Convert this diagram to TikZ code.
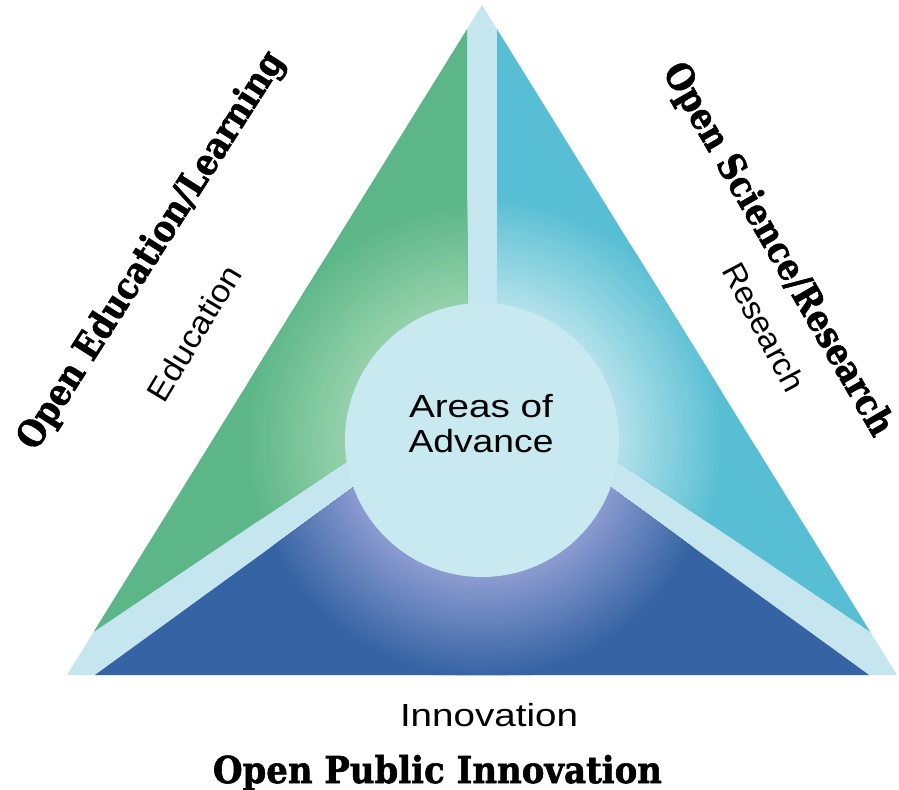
\documentclass[tikz,border=0pt]{standalone}
\usepackage{fontspec}
\usepackage{graphicx}
\setsansfont{Liberation Sans}
\newfontfamily\heavyfont[BoldFeatures={FakeBold=1.6}]{DejaVu Serif}
\definecolor{bandc}{HTML}{C6E6EF}
\definecolor{circc}{HTML}{C9E9F0}
\definecolor{greenb}{HTML}{5CB688}
\definecolor{greeng}{HTML}{96D2AC}
\definecolor{cyanb}{HTML}{58BED3}
\definecolor{cyang}{HTML}{B4E2EB}
\definecolor{blueb}{HTML}{3563A3}
\definecolor{blueg}{HTML}{8E9DD2}
\newcommand\widebox[2]{\resizebox{#1}{\height}{#2}}
% radial glow drawn as concentric discs: #1 inner colour, #2 outer colour, #3 centre, #4 outer radius (px), #5 inner radius (px)
\newcommand\glowdisc[5]{%
  \foreach \gi in {0,...,30}{%
    \pgfmathsetmacro\gr{#4-\gi*(#4-#5)/30}%
    \pgfmathtruncatemacro\gp{100*\gi/30}%
    \fill[#1!\gp!#2] #3 circle[radius=\gr*0.5pt];
  }}
\tikzset{
  heavy/.style={font=\heavyfont\bfseries\fontsize{18.5}{20}\selectfont, inner sep=0pt},
  plain/.style={font=\sffamily\fontsize{16}{17.5}\selectfont, inner sep=0pt, align=center},
}
\begin{document}
\begin{tikzpicture}[x=0.5pt, y=-0.5pt]
\useasboundingbox (0,0) rectangle (899,790);
% outer triangle (separator bands)
\fill[bandc] (482,5) -- (897,675) -- (67,675) -- cycle;
% green sector
\coordinate (gA) at (93.6,632);
\coordinate (gB) at (467,29.2);
\coordinate (gC) at (467,380);
\fill[greenb] (gA) -- (gB) -- (gC) -- cycle;
\begin{scope}
  \clip (gA) -- (gB) -- (gC) -- cycle;
  \glowdisc{greeng}{greenb}{(482,440)}{240}{137}
\end{scope}
% cyan sector
\coordinate (cA) at (870.4,632);
\coordinate (cB) at (497,29.2);
\coordinate (cC) at (497,380);
\fill[cyanb] (cA) -- (cB) -- (cC) -- cycle;
\begin{scope}
  \clip (cA) -- (cB) -- (cC) -- cycle;
  \glowdisc{cyang}{cyanb}{(482,440)}{245}{137}
\end{scope}
% blue sector
\coordinate (bA) at (95,675);
\coordinate (bB) at (869,675);
\coordinate (bC) at (482,394);
\fill[blueb] (bA) -- (bB) -- (bC) -- cycle;
\begin{scope}
  \clip (bA) -- (bB) -- (bC) -- cycle;
  \glowdisc{blueg}{blueb}{(482,445)}{235}{132}
\end{scope}
% centre circle
\node[circle, fill=circc, minimum size=137pt, inner sep=0pt] (hub) at (482,440) {};
\node[plain] (areas) at (481,424) {\widebox{72pt}{Areas of}\\\widebox{72.5pt}{Advance}};
% side labels
\node[plain, rotate=59] (edu) at (194,333) {\widebox{76pt}{Education}};
\node[plain, rotate=-62] (res) at (764,327) {\widebox{70pt}{Research}};
\node[plain, anchor=base] (inn) at (489,726) {\widebox{89pt}{Innovation}};
% heavy labels
\node[heavy, rotate=57.5] (oel) at (152,251) {\widebox{232pt}{Open Education/Learning}};
\node[heavy, rotate=-60] (osr) at (777,250) {\widebox{212pt}{Open Science/Research}};
\node[heavy, anchor=base] (opi) at (437.5,783) {\widebox{224.5pt}{Open Public Innovation}};
\end{tikzpicture}
\end{document}
